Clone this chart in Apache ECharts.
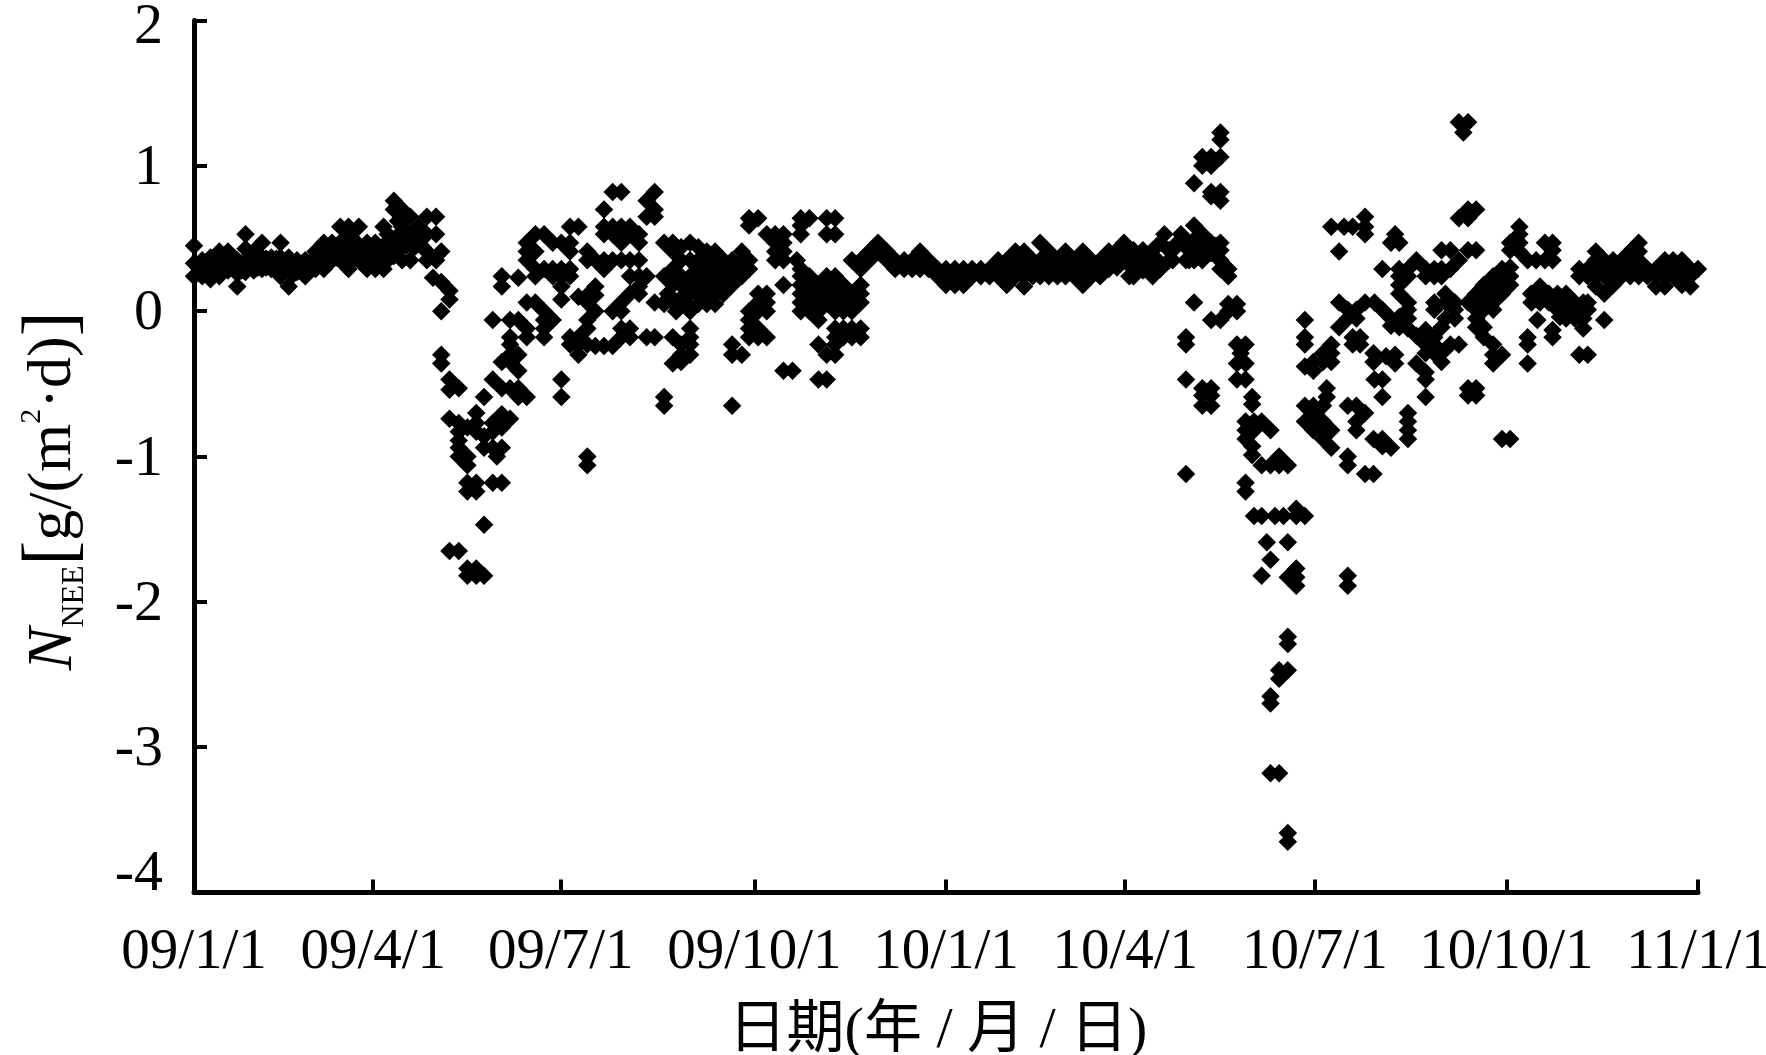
<!DOCTYPE html>
<html><head><meta charset="utf-8">
<style>html,body{margin:0;padding:0;background:#fff}#c{width:1766px;height:1055px}</style>
<script src="https://cdn.jsdelivr.net/npm/echarts@6/dist/echarts.min.js"></script>
</head><body><div id="c"></div>
<script>
// Each row: [day on the axis, NEE values read at that day...]
const winter2009 = [[0,.45,.33,.24],[4,.35,.24],[8,.37,.29,.22],[12.3,.41,.33,.24],[16.5,.41,.33,.28],[21,.35,.26,.17],[25,.53,.43,.33,.27],[29,.41,.33,.28],[33,.47,.37,.29],[37.5,.37,.29],[42,.47,.37,.24],[46,.37,.27,.17],[50,.35,.27],[54,.35,.24],[59,.41,.33,.29],[63,.47,.37,.29],[67,.47,.40,.35],[71,.58,.47,.35],[75,.58,.46,.29],[80,.58,.45,.35],[84,.47,.37,.29],[88,.47,.37,.29],[92,.58,.45,.29],[97,.76,.70,.45,.38],[101,.70,.58,.45,.35],[105,.65,.50,.35],[109,.58,.47],[113,.65,.53,.41,.35],[116,.23],[117.5,.65,.53,.35]];
const denseWinter2009 = [[2,.30],[6,.30],[10,.30,.36],[14,.30,.37],[18,.30,.36],[23,.33,.28],[27,.36,.30],[31,.37,.30],[35,.36,.30],[40,.36,.30],[44,.33,.28],[48,.30,.25],[52,.31,.27],[56,.33,.28],[61,.37,.33],[65,.41,.35],[69,.42,.37],[73,.50,.41,.35],[77,.50,.40,.35],[82,.41,.35],[86,.41,.35],[90,.41,.36],[94,.53,.41,.35],[99,.62,.52,.43],[103,.55,.45],[107,.55,.44],[111,.53,.44]];
const spring2009 = [[120,.41,.20,0,-.30,-.36],[124,.14,.08,-.47,-.54,-.74,-1.65],[128.5,-.53,-.77,-.83,-.89,-.94,-1.00,-1.65],[132.7,-.80,-1.00,-1.06,-1.18,-1.24,-1.77,-1.82],[137,-.70,-.77,-.83,-1.18,-1.24,-1.77,-1.82],[140.8,-.59,-.86,-.94,-1.47,-1.82],[145,-.06,-.47,-.77,-.83,-.94,-1.18],[147,-1.00],[149.4,.24,.17,-.35,-.53,-.71,-.80,-.94,-1.18],[153.4,-.06,-.18,-.23,-.30,-.35,-.53,-.74],[157.4,.23,-.06,-.30,-.41,-.53,-.59],[161.5,.47,.41,.35,.06,-.12,-.18,-.59],[165.7,.53,.41,.29,.24,.06],[169.9,.53,.29,0,-.06,-.12,-.18],[174.1,.47,.29,.24,-.06],[178.3,.47,.29,.24,.17,.08,-.47,-.59]];
const summer2009 = [[182.5,.58,.47,.41,.29,.24,-.18,-.23],[186.6,.58,.10,-.18,-.23,-.30],[190.9,.41,.35,.11,.06,-.06,-.12,-.23,-1.00,-1.06],[194.8,.35,.17,.11,0,-.24],[199,.70,.58,.53,.35,.29,-.24],[203.2,.82,.58,.53,.35,0,-.24],[207.4,.82,.58,.47,.35,.06,0,-.12,-.18],[211.6,.58,.53,.35,.24,.12,-.12,-.18],[216,.53,.47,.35,.24,.17,.12],[219.7,.76,.65,.24,-.18],[223.6,.82,.70,.65,.06,-.18],[228.2,.47,.24,.05,.06,-.59,-.65],[232.4,.47,.41,.29,.24,.18,.06,-.18,-.36],[236.4,.44,.09,-.23,-.30,-.35],[238.4,.05],[240.8,.47,.24,.12,0,-.12,-.18,-.23,-.30],[244.8,.44,.29,.24,.05],[248.9,.41,.29,.24,.18,.05],[252.9,.41,.29,.18,.12,.05],[257,.35,.29],[261.2,.35,.29,.18,-.23,-.30,-.65],[265.9,.41,.35,.24,-.30],[269.4,.64,.59,.35,.29,0,-.06,-.12,-.18]];
const denseSummer2009 = [[230,.12],[234,0],[236.4,.35,.24,.18],[240.8,.35,.18],[244.8,.35,.18,.12],[248.9,.35,.12],[252.9,.35,.24],[257,.24,.18,.12],[261.2,.24],[265.9,.29]];
const autumn2009 = [[273.8,.64,.12,.06,0,-.12,-.18],[278,.53,.12,.06,0,-.18],[282.1,.53,.47,.41,.35],[286.1,.53,.47,.41,.35,.18,-.41],[290.5,-.41],[292.6,.35],[294.5,.64,.59,.53,.29,.24,.18,.12,.06,0],[298.7,.64,.24,.18,.12,.06,0],[303.1,.18,.12,.06,0,-.06,-.23,-.47],[307.1,.64,.53,.24,.18,.06,-.30,-.47],[311.2,.64,.53,.24,.18,.12,.06,0,-.12,-.18,-.23,-.30],[315.2,.18,.12,.06,0,-.12,-.18],[319.3,.35,.12,.06,0,-.12,-.18],[323.6,.35,.29,.18,.12,.06,-.12,-.18],[327.8,.41,.35],[332,.47,.41],[336.3,.41,.35],[340.3,.35,.29],[344.7,.35,.29],[348.6,.35,.29],[352.4,.41,.35,.29],[356.5,.35,.29],[360.9,.29,.24]];
const winter2010 = [[365,.29,.24,.18],[369.3,.29,.24,.18],[373.5,.29,.24,.18],[377.7,.29,.24],[381.9,.29,.24],[386.1,.29,.24],[390.3,.35,.29,.24],[394.5,.35,.24,.18],[398.7,.41,.29,.24],[402.9,.41,.29,.24,.17],[407.1,.35,.24],[410.7,.47,.35,.24],[414.9,.41,.29,.24],[419.1,.35,.24],[423,.41,.29,.24],[427.2,.35,.24],[431.4,.41,.29,.18],[435.6,.35,.24],[439.8,.35,.29,.24],[444,.41,.29],[451.4,.47,.37],[454,.24],[456,.42,.30,.24],[460.6,.42,.28],[465.3,.42,.29,.24],[469,.47,.29],[471,.53],[473.3,.42,.35],[477.4,.47],[479,.53],[481.5,.45,.35]];
const denseWinter2010 = [[392,.30],[396.6,.29],[400.8,.35],[405,.35,.29],[409,.30],[412.8,.29],[417,.35,.30],[421,.30],[425,.35,.30],[429.3,.30],[433.5,.35,.29],[437.7,.30],[442,.35,.30],[448,.42,.35,.30],[453,.42,.33],[458,.36,.30],[463,.36,.30],[467,.36,.33],[475,.42,.35],[483,.47,.35,.42],[487,.47,.40],[491,.47,.40],[496,.45,.38]];
const spring2010 = [[481.5,-.18,-.23,-.47,-1.12],[485.4,.59,.49,.35,.88,.06],[489.4,.53,.35,1.06,1.00,-.53,-.58,-.65],[493.7,.47,.40,1.06,1.00,.82,.79,-.06,-.53,-.58,-.65],[498.2,.47,.42,.35,.29,1.23,1.18,1.06,.82,.76,-.06],[502,.29,.24,.05,0],[506.2,.05,0,-.23,-.36,-.47],[508,-.29],[510.4,-.23,-.36,-.47,-.76,-.82,-.88,-1.18,-1.24],[513.6,-.59,-.64,-.93,-.99],[514.5,-.76,-.82,-1.41],[518.2,-.76,-1.06,-1.41,-1.82],[520.7,-1.59],[522.5,-.82,-1.06,-1.71,-2.65,-2.70,-3.18],[524.7,-1.41],[526.7,-1.00,-1.06,-2.47,-2.53,-3.18],[528.8,-1.41],[530.9,-1.06,-1.59,-1.83,-2.24,-2.29,-2.47,-3.59,-3.65],[535,-1.36,-1.41,-1.77,-1.83,-1.89],[539.2,-1.41,-.06,-.18,-.23,-.38,-.65,-.76]];
const summer2010 = [[543.3,-.35,-.41,-.65,-.70,-.76,-.82],[548,-.29,-.35,-.65,-.76,-.82,-.88],[549.8,-.53,-.59],[552,.58,-.23,-.29,-.35,-.82,-.94],[555.8,.41,.06,-.11],[558.2,.58],[560,.01,-.05,-.65,-1.00,-1.06,-1.82,-1.89],[562.4,.58,-.18,-.23],[564.2,.01,-.05,-.65,-.76,-.82],[566,-.18,-.23],[568.4,.65,.58,.53,.06,-.70,-1.12],[572.5,-.29,-.35,-.88,-1.12],[573,.06,-.47],[576.8,.29,.01,-.47,-.59,-.88,-.93],[578.6,-.31],[581,.47,-.05,-.10,-.94],[583,.53,-.30,-.36],[585,.47,.29,.24,.18,.12,-.04,-.11],[589.2,.29,.24,.06,.01,-.05,-.12,-.70,-.76,-.82,-.88],[593.3,.35,-.17,-.36],[597.8,.29,.24,-.13,-.23,-.29,-.42,-.47,-.59],[602,.29,.24,.06,.01,-.18,-.23,-.29]];
const autumn2010 = [[605.5,.42,.29,.24,-.11,-.29,-.35],[607.4,.12,.06,-.05],[609.8,.42,.29,-.23],[612,.06,.01,-.05],[613.9,1.30,.64,.35,-.23],[616.1,1.23],[618.4,1.30,.70,.64,.42,.06,-.53,-.58],[622.3,.70,.42,.12,-.05,-.11,-.53,-.58],[626,.18,.01,-.11,-.18],[630.6,.24,.06,-.23,-.30,-.36],[634.9,.29,.12,-.30,-.88],[638.8,.47,.42,.24,.18,-.88],[643.3,.58,.53,.47,.41],[647.3,.35,-.18,-.23,-.36],[649.2,.06],[651.4,.35],[652,-.06],[653.3,.17,.06],[655.7,.47,.35],[657.6,.12],[659.4,.47,.42,.35,-.13,-.18],[661.8,.12,.06],[666,.12,.06],[670.2,.06,-.05],[672.4,.29,.24,.01,-.30],[674.3,.06,-.05,-.12],[676.5,.29,.24,.06,.01,-.30]];
const denseAutumn2010 = [[622.3,.06,.01],[626,.12,.06],[630.6,.18,.12,.01],[634.9,.24,.18],[638.8,.30],[649,.12],[653.3,.12],[657.6,.06],[661.8,.01],[663,-.04],[666,.01,-.05],[670.2,.01]];
const lateAutumn2010 = [[680.4,.41,.35,.29,.24,.17],[684.5,.35,.29,.24,.12,-.06],[688.8,.35,.29,.24,.18],[692.9,.35,.29,.24],[697.1,.41,.35,.29,.24],[701.2,.47,.41,.35,.29,.24],[705.5,.29,.24],[709.6,.29,.24,.17],[713.9,.35,.29,.24,.17],[717.9,.35,.29,.24],[722.2,.35,.29,.24,.18],[726.3,.29,.24,.17],[730,.29]];
const xTickDays = [0,87,178,272,365,452,544,637,730];
const xTickLabels = ['09/1/1','09/4/1','09/7/1','09/10/1','10/1/1','10/4/1','10/7/1','10/10/1','11/1/1'];

const allRows = [...winter2009,...denseWinter2009,...spring2009,...summer2009,...denseSummer2009,...autumn2009,...winter2010,...denseWinter2010,...spring2010,...summer2010,...autumn2010,...denseAutumn2010,...lateAutumn2010];
const points = allRows.flatMap(r => r.slice(1).map(v => [r[0], v]));
const serif = '"Liberation Serif","Noto Sans CJK SC",serif';
const yLabelBase = {fontFamily:serif,fontSize:58,color:'#000'};
const chart = echarts.init(document.getElementById('c'), null, {renderer:'canvas'});
chart.setOption({
  animation:false, backgroundColor:'#fff',
  grid:{left:194,right:68,top:20.5,height:872,containLabel:false,outerBoundsMode:'none'},
  xAxis:{type:'value',min:0,max:730,splitLine:{show:false},
    axisLine:{onZero:false,lineStyle:{color:'#000',width:5}},
    axisTick:{inside:true,length:13,lineStyle:{color:'#000',width:4},customValues:xTickDays},
    axisLabel:{color:'#000',fontFamily:serif,fontSize:57,margin:32,hideOverlap:false,showMinLabel:true,showMaxLabel:true,customValues:xTickDays,
      formatter:v=>xTickLabels[xTickDays.indexOf(v)]},
    name:'日期(年 / 月 / 日)',nameLocation:'middle',nameGap:110,
    nameTextStyle:{color:'#000',fontFamily:serif,fontSize:58,padding:[0,16,0,0]}},
  yAxis:{type:'value',min:-4,max:2,interval:1,splitLine:{show:false},
    axisLine:{lineStyle:{color:'#000',width:5}},
    axisTick:{inside:true,length:13,lineStyle:{color:'#000',width:4}},
    axisLabel:{margin:31,showMinLabel:true,showMaxLabel:true,
      formatter:v=>v===-4?'{low|'+v+'}':(v===2?'{high|'+v+'}':'{std|'+v+'}'),
      rich:{std:{...yLabelBase,padding:[6,0,0,0]},low:{...yLabelBase,padding:[0,0,36,0]},high:{...yLabelBase,padding:[14,0,0,0]}}}},
  series:[{type:'scatter',data:points,symbol:'diamond',symbolSize:18.5,clip:false,
    itemStyle:{color:'#000',opacity:1}}],
  graphic:[{type:'text',x:54,y:491,rotation:Math.PI/2,
    style:{align:'center',verticalAlign:'middle',fill:'#000',
      rich:{
        n:{fontFamily:serif,fontStyle:'italic',fontSize:64,fill:'#000'},
        s:{fontFamily:serif,fontSize:32,fill:'#000',verticalAlign:'bottom',padding:[24,0,0,0]},
        b:{fontFamily:serif,fontSize:74,fill:'#000'},
        t:{fontFamily:serif,fontSize:62,fill:'#000'},
        u:{fontFamily:serif,fontSize:30,fill:'#000',verticalAlign:'top',padding:[0,0,20,0]}
      },
      text:'{n|N}{s|NEE}{b|[}{t|g/(m}{u|2}{t|·d)}{b|]}'}}]
});
</script></body></html>
